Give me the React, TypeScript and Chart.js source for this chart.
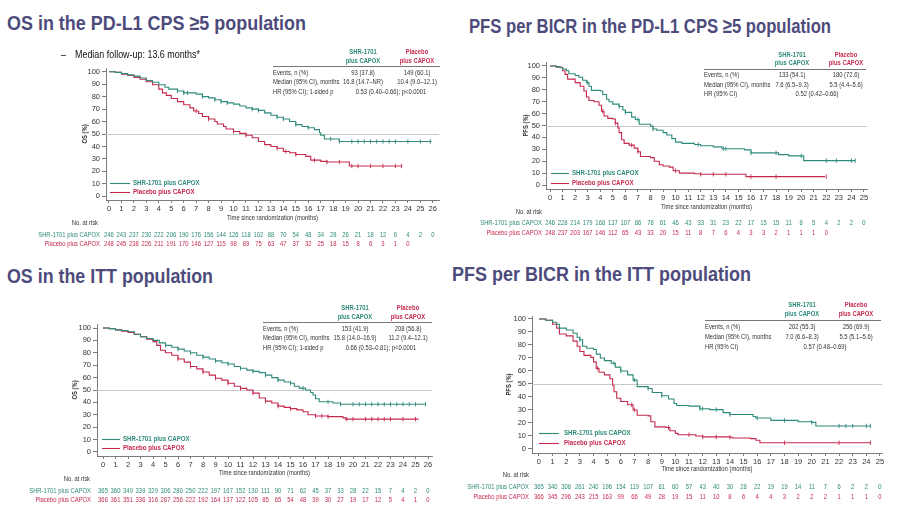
import React, { useEffect, useLayoutEffect, useRef } from 'react';
import { Chart, registerables } from 'chart.js';
Chart.register(...registerables);

const TEAL = '#2e8a7a';
const RED = '#c52a4e';
const TITLE = '#4d4b7c';
const AXIS = '#5a5a5a';
const TXT = '#333333';
const FONT = '"Liberation Sans", Arial, Helvetica, sans-serif';
const SX = 0.78;

// ---------- tick labels ----------
const xTicks26 = [0, 1, 2, 3, 4, 5, 6, 7, 8, 9, 10, 11, 12, 13, 14, 15, 16, 17, 18, 19, 20, 21, 22, 23, 24, 25, 26];
const xTicks25 = [0, 1, 2, 3, 4, 5, 6, 7, 8, 9, 10, 11, 12, 13, 14, 15, 16, 17, 18, 19, 20, 21, 22, 23, 24, 25];
const yTicks = [0, 10, 20, 30, 40, 50, 60, 70, 80, 90, 100];

// ---------- OS, PD-L1 CPS >=5 ----------
const os5Shr = [[0,100],[0.5,99.5],[1,98.5],[1.5,97.5],[2,96.5],[2.5,95],[3,93],[3.5,91.5],[4,89.5],[4.5,87.5],[4.8,86],[5.5,84.5],[6,83],[7,82],[7.5,80],[8,79],[8.5,77.5],[9,76],[9.5,75],[10,74],[10.5,72.5],[11,71],[11.5,70],[12,69],[12.5,67],[13,65],[13.5,63.5],[14,62],[14.5,60],[15,57.5],[15.5,56],[16,55],[16.5,53.5],[16.9,51],[17,49],[17.3,46],[18.5,44],[25.9,44]];
const os5Pbo = [[0,100],[0.5,99.5],[1,98],[1.5,97],[2,95.5],[2.5,94],[3,92],[3.5,89.5],[4,86],[4.3,83],[4.6,81],[5,78.5],[5.5,76],[6,73.5],[6.5,71],[6.8,68.5],[7.2,66.5],[7.5,64],[8,62],[8.5,60],[8.7,58],[9.2,56],[9.4,54],[10,52],[10.5,50.5],[11,49],[11.5,47],[12,44],[12.5,41.5],[13,40],[13.5,38.5],[14,36],[14.5,35],[15,33.5],[15.8,32],[16.2,29],[17,28],[17.5,27.5],[19.3,24.3],[23.5,24.3]];
const os5ShrCens = [5.5, 6, 6.3, 7.5, 8.5, 9, 9.5, 11.5, 12, 13.5, 14, 15, 16, 17.8, 18.5, 19.5, 20, 20.5, 21, 21.5, 22, 22.5, 23, 24, 25, 25.8];
const os5PboCens = [7, 8, 10, 11, 13.5, 14.2, 15, 16.5, 17.5, 18.5, 19.5, 20, 21, 22, 23, 23.5];
const os5RiskShr = [246, 243, 237, 230, 222, 206, 190, 176, 156, 144, 126, 118, 102, 88, 70, 54, 48, 34, 28, 26, 21, 18, 12, 6, 4, 2, 0];
const os5RiskPbo = [248, 245, 238, 226, 211, 191, 170, 146, 127, 115, 98, 89, 75, 63, 47, 37, 32, 25, 18, 15, 8, 6, 3, 1, 0];
const os5Rows = [['Events, n (%)', '93 (37.8)', '149 (60.1)'], ['Median (95% CI), months', '16.8 (14.7–NR)', '10.4 (9.0–12.1)']];
const os5Hr = ['HR (95% CI); 1-sided p', '0.53 (0.40–0.66); p<0.0001'];

// ---------- PFS, PD-L1 CPS >=5 ----------
const pfs5Shr = [[0,100],[0.5,99.5],[0.8,98.5],[1,97.5],[1.3,96],[1.5,93.5],[2,92],[2.3,90.5],[2.6,88],[2.9,86],[3.1,83],[3.3,79.5],[4,79],[4.2,76],[4.5,72],[4.7,70],[5,68],[5.5,66],[5.8,63],[6,61],[6.5,57],[6.8,55],[7.1,51],[8,49.5],[8.2,47],[8.5,46],[9,44],[9.3,42],[9.7,39],[10,36],[10.5,35],[11.5,34],[12,33],[13,32],[13.7,30.5],[15.5,29.5],[16,27],[18.2,25.5],[19,24.5],[20.2,20.5],[24.3,20.5]];
const pfs5Pbo = [[0,100],[0.5,99],[1,96],[1.2,93],[1.4,89],[2,86],[2.4,83],[2.7,79],[2.9,74],[3.1,71],[3.5,70],[3.9,67],[4.1,62],[4.3,58],[4.6,56],[5,55.5],[5.2,52],[5.4,48],[5.5,44],[5.7,38],[5.9,35],[6.3,33.5],[6.7,31],[7,28],[7.2,24],[8,23],[8.3,20],[8.7,17],[9,16],[9.5,15],[9.8,12],[10.3,10],[11.5,9.5],[12,9],[15.5,9],[15.6,7],[21.9,7]];
const pfs5ShrCens = [3, 5.5, 6, 7, 8.2, 11.8, 13.8, 14, 16, 18, 20, 22, 22.8, 24, 24.3];
const pfs5PboCens = [4.2, 5.2, 6.5, 7, 10, 12, 13, 14, 16, 18, 22];
const pfs5RiskShr = [246, 228, 214, 179, 168, 137, 107, 86, 78, 61, 46, 43, 33, 31, 23, 22, 17, 15, 15, 11, 8, 5, 4, 2, 2, 0];
const pfs5RiskPbo = [248, 237, 203, 167, 146, 112, 65, 43, 33, 20, 15, 11, 8, 7, 6, 4, 3, 3, 2, 1, 1, 1, 0];
const pfs5Rows = [['Events, n (%)', '133 (54.1)', '180 (72.6)'], ['Median (95% CI), months', '7.6 (6.5–9.3)', '5.5 (4.4–5.6)']];
const pfs5Hr = ['HR (95% CI)', '0.52 (0.42–0.66)'];

// ---------- OS, ITT ----------
const osIttShr = [[0,100],[0.5,99.5],[1,98.5],[1.5,98],[2,97],[2.5,95],[3,93],[3.5,91.5],[4,90],[4.5,88],[5,86],[5.5,84.5],[6,83],[6.5,81.5],[7,80],[7.5,78],[8,76.5],[8.5,75],[9,73.5],[9.5,72],[10,71],[10.5,69],[11,67.5],[11.5,66],[12,65],[12.5,64],[13,62],[13.5,60],[14,58],[14.5,56.5],[15,55.5],[15.3,53],[15.7,51.5],[16.2,50],[16.6,48],[16.8,46],[17,43],[17.3,40.5],[18.4,39.5],[19,38.5],[25.8,38.5]];
const osIttPbo = [[0,100],[0.5,99.5],[1,98.5],[1.5,97.5],[2,96.5],[2.5,95],[3,93],[3.5,91],[4,89],[4.3,86],[4.6,82],[5,80],[5.5,78],[6,75],[6.5,72.5],[7,69],[7.5,67],[8,64.5],[8.5,62],[9,59.5],[9.5,58],[10,55.5],[10.5,53],[11,51.3],[11.5,50],[12,47.5],[12.5,43.5],[13,41],[13.5,39.5],[14,37],[14.5,36],[15,35],[15.5,34],[16,32.5],[16.4,30],[17,29],[18,28.5],[19.2,27.5],[19.4,26.5],[25.25,26.5]];
const osIttShrCens = [5, 6, 7, 8, 9, 10, 11, 12, 13, 14, 15, 16, 18, 19, 20, 20.5, 21, 21.5, 22, 22.5, 23, 23.5, 24, 24.5, 25, 25.8];
const osIttPboCens = [6, 7, 8, 9, 10, 11, 12, 13, 14, 15, 17, 17.5, 18, 19.5, 20, 21, 21.5, 22, 22.5, 23, 24, 25];
const osIttRiskShr = [365, 360, 349, 339, 329, 306, 280, 250, 222, 197, 167, 152, 130, 111, 90, 71, 62, 45, 37, 33, 28, 22, 15, 7, 4, 2, 0];
const osIttRiskPbo = [366, 361, 351, 336, 316, 287, 256, 222, 192, 164, 137, 122, 105, 85, 65, 54, 48, 39, 30, 27, 19, 17, 12, 5, 4, 1, 0];
const osIttRows = [['Events, n (%)', '153 (41.9)', '208 (56.8)'], ['Median (95% CI), months', '15.8 (14.0–16.9)', '11.2 (9.4–12.1)']];
const osIttHr = ['HR (95% CI); 1-sided p', '0.66 (0.53–0.81); p<0.0001'];

// ---------- PFS, ITT ----------
const pfsIttShr = [[0,100],[0.5,99],[1,97.5],[1.3,96],[1.5,93],[2,91.5],[2.5,89],[2.8,86],[3,84],[3.2,79],[3.5,77.5],[4,76.5],[4.2,73],[4.5,70],[4.8,68],[5.3,66],[5.6,63],[6,60],[6.5,57],[6.9,53],[7.2,48],[8,46.5],[8.3,43.5],[9,41],[9.5,38.5],[9.9,35],[10.1,33.5],[11,33],[11.8,31],[12.5,30.3],[13.5,28],[14,26.5],[15.7,25],[15.9,23.8],[17,22],[19,21],[20,20.5],[20.3,17.7],[24.3,17.7]];
const pfsIttPbo = [[0,100],[0.5,99],[1,96],[1.3,93],[1.5,88.5],[2,87],[2.5,83],[2.8,79],[3,75],[3.3,72],[3.8,70.5],[4,67],[4.2,62],[4.4,59],[4.8,57],[5.2,54],[5.4,49],[5.5,44],[5.7,39],[6,36.5],[6.5,34],[6.9,30],[7.2,26],[8,25.5],[8.2,21],[8.5,17],[9.3,16.5],[9.6,14],[10,12],[10.2,11],[11.5,10],[12,9.3],[14,9],[14.2,8.5],[15.5,8],[15.9,6.7],[16.2,4.8],[24.3,4.8]];
const pfsIttShrCens = [1, 3, 5.5, 6, 7, 8, 9, 11.8, 12, 13, 14, 16, 18, 20, 22, 22.5, 23, 24, 24.3];
const pfsIttPboCens = [4.3, 6.8, 7, 9.5, 11, 12, 13, 14, 18, 22, 24.3];
const pfsIttRiskShr = [365, 340, 308, 261, 240, 196, 154, 119, 107, 81, 60, 57, 43, 40, 30, 28, 22, 19, 19, 14, 11, 7, 6, 2, 2, 0];
const pfsIttRiskPbo = [366, 345, 296, 243, 215, 163, 99, 66, 49, 28, 19, 15, 11, 10, 8, 6, 4, 4, 3, 2, 2, 2, 1, 1, 1, 0];
const pfsIttRows = [['Events, n (%)', '202 (55.3)', '256 (69.9)'], ['Median (95% CI), months', '7.0 (6.6–8.3)', '5.5 (5.1–5.6)']];
const pfsIttHr = ['HR (95% CI)', '0.57 (0.48–0.69)'];

// ---------- layout configs ----------
const panels = [
  {
    cv: { l: 0, t: 40, w: 449, h: 212 }, area: { l: 106, t: 68, r: 439, b: 200 },
    xMin: -0.24, xMax: 26.5, yMin: -3, yMax: 103, xTicks: xTicks26,
    yTitle: 'OS (%)', yTitleX: 85, xTitleY: 218,
    tbl: { h1: 52, h2: 61, colA: 363, colB: 417, rule: 66, ruleL: 273, ruleR: 440, rows: [73, 82, 92], hrX: 391 },
    leg: { l: 110, r: 130, tx: 133, y1: 183, y2: 192 },
    risk: { head: 223, headR: 98, labR: 100, y1: 235, y2: 244 },
    shr: os5Shr, pbo: os5Pbo, shrC: os5ShrCens, pboC: os5PboCens, rShr: os5RiskShr, rPbo: os5RiskPbo, rows: os5Rows, hr: os5Hr,
  },
  {
    cv: { l: 449, t: 40, w: 449, h: 205 }, area: { l: 546, t: 62, r: 867, b: 189 },
    xMin: -0.32, xMax: 25.24, yMin: -3.36, yMax: 103.36, xTicks: xTicks25,
    yTitle: 'PFS (%)', yTitleX: 526, xTitleY: 207,
    tbl: { h1: 55, h2: 63, colA: 792, colB: 846, rule: 69, ruleL: 704, ruleR: 866, rows: [75, 85, 94], hrX: 817 },
    leg: { l: 551, r: 569, tx: 572, y1: 173, y2: 183 },
    risk: { head: 212, headR: 542, labR: 542, y1: 223, y2: 233 },
    shr: pfs5Shr, pbo: pfs5Pbo, shrC: pfs5ShrCens, pboC: pfs5PboCens, rShr: pfs5RiskShr, rPbo: pfs5RiskPbo, rows: pfs5Rows, hr: pfs5Hr,
  },
  {
    cv: { l: 0, t: 296, w: 449, h: 212 }, area: { l: 97, t: 324, r: 432, b: 456 },
    xMin: -0.48, xMax: 26.32, yMin: -3.23, yMax: 103.23, xTicks: xTicks26,
    yTitle: 'OS (%)', yTitleX: 75, xTitleY: 473,
    tbl: { h1: 308, h2: 317, colA: 355, colB: 408, rule: 322, ruleL: 263, ruleR: 432, rows: [329, 338, 348], hrX: 381 },
    leg: { l: 102, r: 120, tx: 123, y1: 439, y2: 448 },
    risk: { head: 479, headR: 90, labR: 91, y1: 491, y2: 500 },
    shr: osIttShr, pbo: osIttPbo, shrC: osIttShrCens, pboC: osIttPboCens, rShr: osIttRiskShr, rPbo: osIttRiskPbo, rows: osIttRows, hr: osIttHr,
  },
  {
    cv: { l: 449, t: 292, w: 449, h: 215 }, area: { l: 532, t: 316, r: 882, b: 453 },
    xMin: -0.51, xMax: 25.15, yMin: -3.08, yMax: 102.3, xTicks: xTicks25,
    yTitle: 'PFS (%)', yTitleX: 509, xTitleY: 469,
    tbl: { h1: 305, h2: 314, colA: 802, colB: 856, rule: 320, ruleL: 705, ruleR: 881, rows: [327, 337, 347], hrX: 825 },
    leg: { l: 539, r: 559, tx: 564, y1: 433, y2: 443 },
    risk: { head: 475, headR: 529, labR: 529, y1: 487, y2: 497 },
    shr: pfsIttShr, pbo: pfsIttPbo, shrC: pfsIttShrCens, pboC: pfsIttPboCens, rShr: pfsIttRiskShr, rPbo: pfsIttRiskPbo, rows: pfsIttRows, hr: pfsIttHr,
  },
];

function stepAt(curve: number[][], t: number) {
  let y = curve[0][1];
  for (const [x, v] of curve) { if (x <= t) y = v; }
  return y;
}

function txt(ctx: CanvasRenderingContext2D, s: string, x: number, y: number, o: any = {}) {
  ctx.save();
  ctx.translate(x, y);
  if (o.rot) ctx.rotate(o.rot);
  ctx.scale(o.sx ?? SX, 1);
  ctx.font = `${o.bold ? 'bold ' : ''}${o.size ?? 7.5}px ${FONT}`;
  ctx.fillStyle = o.color ?? TXT;
  ctx.textAlign = o.align ?? 'left';
  ctx.textBaseline = 'middle';
  ctx.fillText(s, 0, 0);
  ctx.restore();
}

function KMPanel({ p }: { p: any }) {
  const ref = useRef<HTMLCanvasElement>(null);
  useEffect(() => {
    const canvas = ref.current!;
    const ox = p.cv.l, oy = p.cv.t;
    const overlay = {
      id: 'overlay',
      beforeDatasetsDraw(chart: any) {
        const ctx = chart.ctx as CanvasRenderingContext2D;
        const ys = chart.scales.y.getPixelForValue(50);
        ctx.save();
        ctx.strokeStyle = '#c8c8c8';
        ctx.lineWidth = 1;
        ctx.beginPath();
        ctx.moveTo(chart.chartArea.left, Math.round(ys) + 0.5);
        ctx.lineTo(chart.chartArea.right, Math.round(ys) + 0.5);
        ctx.stroke();
        ctx.restore();
      },
      afterDraw(chart: any) {
        const ctx = chart.ctx as CanvasRenderingContext2D;
        const xs = chart.scales.x;
        const X = (v: number) => v - ox;
        const Y = (v: number) => v - oy;
        const ca = chart.chartArea;
        // axis titles
        txt(ctx, 'Time since randomization (months)', (ca.left + ca.right) / 2, Y(p.xTitleY), { align: 'center', size: 7.5 });
        txt(ctx, p.yTitle, X(p.yTitleX), (ca.top + ca.bottom) / 2, { align: 'center', size: 7.5, bold: true, rot: -Math.PI / 2 });
        // table
        const t = p.tbl;
        txt(ctx, 'SHR-1701', X(t.colA), Y(t.h1), { align: 'center', bold: true, color: TEAL });
        txt(ctx, 'plus CAPOX', X(t.colA), Y(t.h2), { align: 'center', bold: true, color: TEAL });
        txt(ctx, 'Placebo', X(t.colB), Y(t.h1), { align: 'center', bold: true, color: RED });
        txt(ctx, 'plus CAPOX', X(t.colB), Y(t.h2), { align: 'center', bold: true, color: RED });
        ctx.save();
        ctx.strokeStyle = '#777';
        ctx.lineWidth = 1;
        ctx.beginPath();
        ctx.moveTo(X(t.ruleL), Y(t.rule) + 0.5);
        ctx.lineTo(X(t.ruleR), Y(t.rule) + 0.5);
        ctx.stroke();
        ctx.restore();
        p.rows.forEach((r: string[], i: number) => {
          txt(ctx, r[0], X(t.ruleL), Y(t.rows[i]));
          txt(ctx, r[1], X(t.colA), Y(t.rows[i]), { align: 'center' });
          txt(ctx, r[2], X(t.colB), Y(t.rows[i]), { align: 'center' });
        });
        txt(ctx, p.hr[0], X(t.ruleL), Y(t.rows[2]));
        txt(ctx, p.hr[1], X(t.hrX), Y(t.rows[2]), { align: 'center' });
        // legend
        const L = p.leg;
        [[L.y1, TEAL, 'SHR-1701 plus CAPOX'], [L.y2, RED, 'Placebo plus CAPOX']].forEach(([yy, c, s]: any) => {
          ctx.save();
          ctx.strokeStyle = c;
          ctx.lineWidth = 1.1;
          ctx.beginPath();
          ctx.moveTo(X(L.l), Y(yy) + 0.5);
          ctx.lineTo(X(L.r), Y(yy) + 0.5);
          ctx.stroke();
          ctx.restore();
          txt(ctx, s, X(L.tx), Y(yy), { bold: true, color: c, size: 7.5, sx: 0.82 });
        });
        // numbers at risk
        const R = p.risk;
        txt(ctx, 'No. at risk', X(R.headR), Y(R.head), { align: 'right', size: 7.5 });
        txt(ctx, 'SHR-1701 plus CAPOX', X(R.labR), Y(R.y1), { align: 'right', color: TEAL, size: 7.5 });
        txt(ctx, 'Placebo plus CAPOX', X(R.labR), Y(R.y2), { align: 'right', color: RED, size: 7.5 });
        p.rShr.forEach((n: number, i: number) => txt(ctx, String(n), xs.getPixelForValue(i), Y(R.y1), { align: 'center', color: TEAL, size: 7.5 }));
        p.rPbo.forEach((n: number, i: number) => txt(ctx, String(n), xs.getPixelForValue(i), Y(R.y2), { align: 'center', color: RED, size: 7.5 }));
      },
    };
    const line = (curve: number[][], c: string) => ({
      data: curve.map(([x, y]) => ({ x, y })),
      borderColor: c, borderWidth: 1.1, stepped: true, pointRadius: 0, fill: false,
    });
    const cens = (times: number[], curve: number[][], c: string) => ({
      data: times.map((x) => ({ x, y: stepAt(curve, x) })),
      showLine: false, pointStyle: 'line', rotation: 90, pointRadius: 2.2,
      pointBorderColor: c, pointBorderWidth: 0.9, borderColor: c,
    });
    const tickFont = { size: 7.5, family: FONT };
    const chart = new Chart(canvas, {
      type: 'line',
      data: {
        datasets: [
          line(p.shr, TEAL), line(p.pbo, RED),
          cens(p.shrC, p.shr, TEAL), cens(p.pboC, p.pbo, RED),
        ] as any,
      },
      options: {
        responsive: false,
        animation: false,
        devicePixelRatio: 1,
        events: [],
        layout: { padding: { left: 0, top: p.area.t - p.cv.t, right: p.cv.l + p.cv.w - p.area.r, bottom: 0 } },
        plugins: { legend: { display: false }, tooltip: { enabled: false }, title: { display: false } },
        scales: {
          x: {
            type: 'linear', min: p.xMin, max: p.xMax,
            afterBuildTicks: (s: any) => { s.ticks = p.xTicks.map((v: number) => ({ value: v })); },
            afterFit: (s: any) => { s.height = p.cv.t + p.cv.h - p.area.b; },
            grid: { drawOnChartArea: false, drawTicks: true, tickLength: 3, color: AXIS, lineWidth: 0.8 },
            border: { display: true, color: AXIS, width: 0.8 },
            ticks: { font: tickFont, color: TXT, padding: 1, maxRotation: 0, autoSkip: false, callback: (v: any) => String(v) },
          },
          y: {
            type: 'linear', min: p.yMin, max: p.yMax,
            afterBuildTicks: (s: any) => { s.ticks = yTicks.map((v: number) => ({ value: v })); },
            afterFit: (s: any) => { s.width = p.area.l - p.cv.l; },
            grid: { drawOnChartArea: false, drawTicks: true, tickLength: 4, color: AXIS, lineWidth: 0.8 },
            border: { display: true, color: AXIS, width: 0.8 },
            ticks: { font: tickFont, color: TXT, padding: 2, autoSkip: false, callback: (v: any) => String(v) },
          },
        },
      } as any,
      plugins: [overlay],
    });
    return () => chart.destroy();
  }, [p]);
  return (
    <canvas ref={ref} width={p.cv.w} height={p.cv.h}
      style={{ position: 'absolute', left: p.cv.l, top: p.cv.t, width: p.cv.w, height: p.cv.h }} />
  );
}

function FitText({ text, left, baseline, width, size, color, bold }: any) {
  const ref = useRef<HTMLSpanElement>(null);
  useLayoutEffect(() => {
    const el = ref.current;
    if (!el) return;
    el.style.transform = 'none';
    const w = el.getBoundingClientRect().width;
    el.style.transform = `scaleX(${width / w})`;
  }, [text, width]);
  return (
    <span ref={ref} style={{
      position: 'absolute', left, top: baseline - 0.8465 * size, fontSize: size, lineHeight: `${size}px`,
      fontFamily: FONT, fontWeight: bold ? 700 : 400, color, whiteSpace: 'nowrap', transformOrigin: '0 0', display: 'inline-block',
    }}>{text}</span>
  );
}

export default function App() {
  return (
    <div style={{ position: 'absolute', left: 0, top: 0, width: 898, height: 512, background: '#fff', overflow: 'hidden' }}>
      {panels.map((p, i) => <KMPanel key={i} p={p} />)}
      <FitText text="OS in the PD-L1 CPS ≥5 population" left={7} baseline={30} width={299} size={21} color={TITLE} bold />
      <FitText text="PFS per BICR in the PD-L1 CPS ≥5 population" left={469} baseline={33} width={362} size={21} color={TITLE} bold />
      <FitText text="OS in the ITT population" left={7} baseline={283} width={206} size={21} color={TITLE} bold />
      <FitText text="PFS per BICR in the ITT population" left={452} baseline={281} width={299} size={21} color={TITLE} bold />
      <FitText text="–" left={61} baseline={58.5} width={5} size={10} color="#111" />
      <FitText text="Median follow-up: 13.6 months*" left={75} baseline={58.5} width={125} size={10} color="#111" />
    </div>
  );
}
